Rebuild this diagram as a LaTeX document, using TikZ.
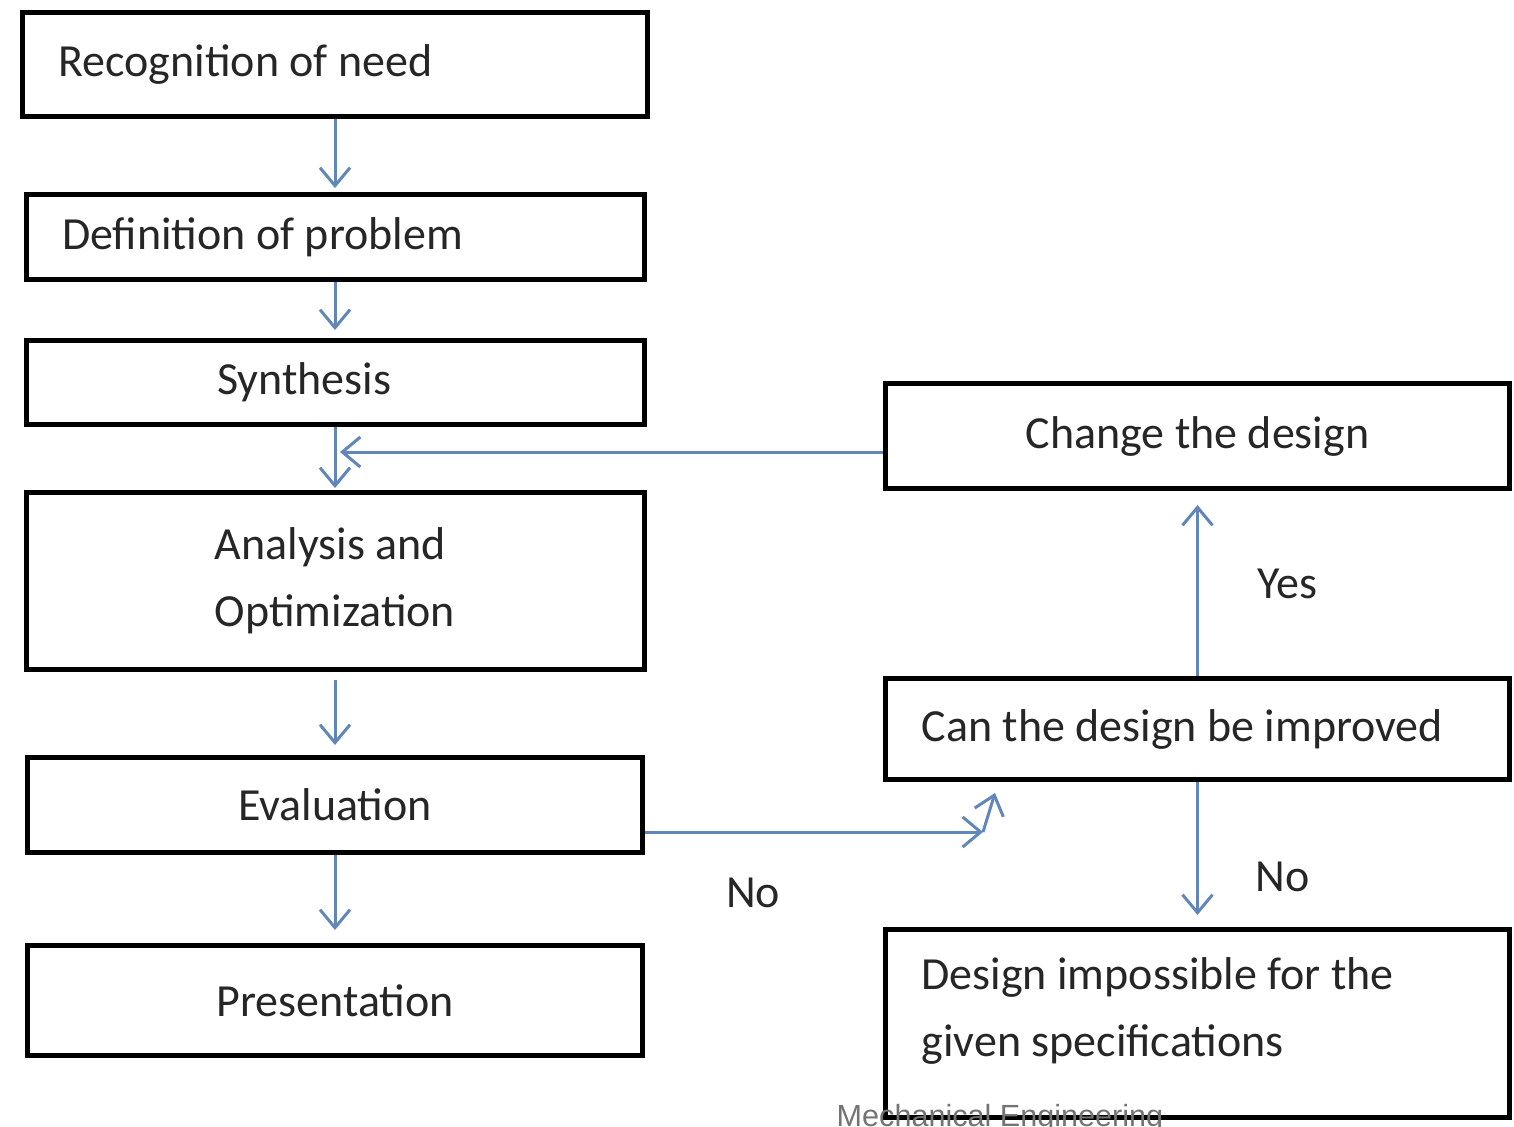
\documentclass[tikz,border=0pt]{standalone}
\usepackage{fontspec}
\setmainfont{Carlito}
\newfontfamily\srcfont{Liberation Sans}
\usetikzlibrary{arrows.meta, positioning, calc}
\definecolor{flowblue}{RGB}{96,134,186}
\tikzset{
  box/.style  = {rectangle, draw=black, line width=2.5pt, text=black!85,
                 font=\fontsize{23}{33.5}\selectfont, inner ysep=0pt},
  lbox/.style = {box, align=flush left, inner xsep=18pt},
  cbox/.style = {box, align=center},
  fl/.style   = {-{Straight Barb[length=9pt,width=15pt]}, draw=flowblue, line width=1.5pt},
  lbl/.style  = {font=\fontsize{23}{28}\selectfont, text=black!85, inner sep=1pt},
  src/.style  = {font=\srcfont\fontsize{15.3}{18}\selectfont, text=black!55, inner sep=0pt},
}

\begin{document}
\begin{tikzpicture}
  \useasboundingbox (0,0) rectangle (757pt,-563pt);
  % main column
  \node[lbox, minimum width=312.5pt, minimum height=52pt, text width=276.5pt] (rec) at (167.5pt,-32.25pt) {Recognition of need};
  \node[lbox, minimum width=309pt, minimum height=42.5pt, text width=273pt, below=36.5pt of rec] (def) {Definition of problem};
  \node[box, align=flush left, inner xsep=95.5pt, text width=118pt, minimum width=309pt, minimum height=42pt, below=28pt of def] (syn) {Synthesis};
  \node[box, align=left, minimum width=309pt, minimum height=88.5pt, below=31.5pt of syn] (ana) {Analysis and\\Optimization};
  \node[cbox, minimum width=307.5pt, minimum height=47.5pt, below=41.5pt of ana] (eva) {Evaluation};
  \node[cbox, minimum width=307.5pt, minimum height=55pt, below=44pt of eva] (pre) {Presentation};

  % redesign loop
  \node[cbox, minimum width=312pt, minimum height=52.5pt, right=118.25pt of syn, yshift=-26.75pt] (chg) {Change the design};
  \node[lbox, minimum width=312pt, minimum height=50.5pt, text width=276pt, below=92.5pt of chg] (can) {Can the design be improved};
  \node[lbox, minimum width=312pt, minimum height=94pt, text width=276pt, below=72.5pt of can] (imp) {Design impossible for the\\given specifications\par\vspace{13pt}};

  \draw[fl, shorten >=2pt] (rec.south) -- (def.north);
  \draw[fl, shorten >=4pt] (def.south) -- (syn.north);
  \draw[fl, shorten >=1pt] (syn.south) -- (ana.north);
  \draw[fl, shorten <=4pt, shorten >=5pt] (ana.south) -- (eva.north);
  \draw[fl, shorten >=6.5pt] (eva.south) -- (pre.north);

  \coordinate (ret) at ([yshift=-8pt]chg.west);
  \draw[fl] (ret) -- ($(ret -| ana.north)+(2.5pt,0)$);

  \coordinate (ev) at ([yshift=-13.5pt]eva.east);
  \coordinate (bend) at ($(ev -| can.south west)+(50pt,0)$);
  \coordinate (up) at ($(can.south west)+(56pt,-5.5pt)$);
  \draw[fl] (ev) -- node[lbl, pos=0.32, yshift=-30.5pt] (no1) {No} (bend);
  \draw[fl] (bend) -- (up);

  \draw[fl, shorten >=7pt] (can.north) -- node[lbl, xshift=45pt] (yes) {Yes} (chg.south);
  \draw[fl, shorten >=6pt] (can.south) -- node[lbl, pos=0.655, xshift=42.5pt] (no2) {No} (imp.north);

  \node[src, anchor=base] (credit) at (500pt,-563pt) {Mechanical Engineering};
\end{tikzpicture}
\end{document}
